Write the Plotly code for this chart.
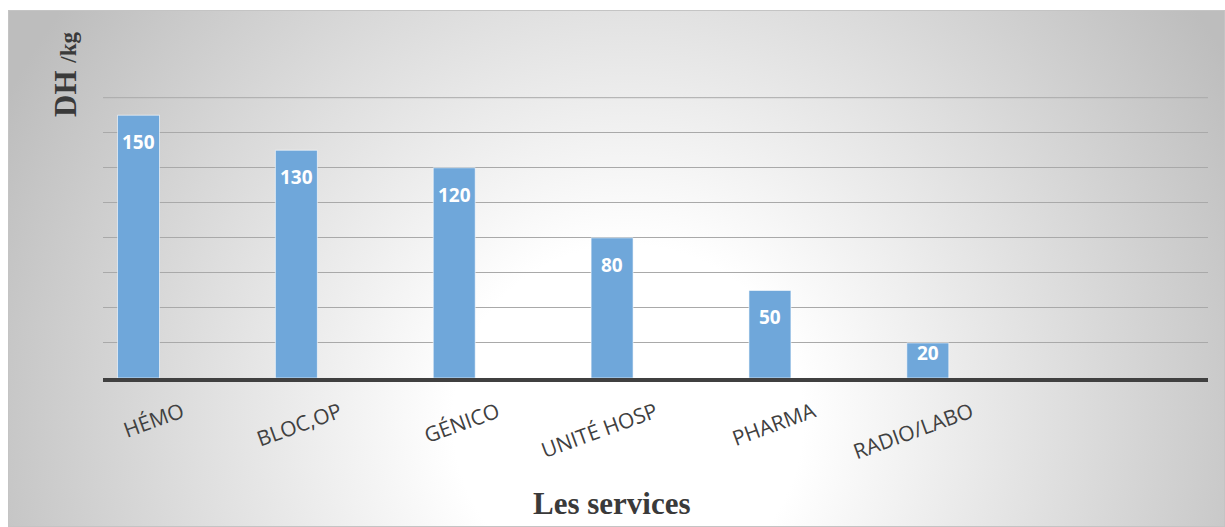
import base64
import plotly.graph_objects as go

# ---- data ----
categories = ["HÉMO", "BLOC,OP", "GÉNICO", "UNITÉ HOSP", "PHARMA", "RADIO/LABO"]
values = [150, 130, 120, 80, 50, 20]
y_max = 160
y_step = 20

# ---- layout geometry (pixels) ----
W, H = 1225, 527
ML, MR, MT, MB = 103, 17, 97, 149
PW, PH = W - ML - MR, H - MT - MB
n_slots = 7
bar_width = 0.266
bar_offset = -0.408
y_top = y_max + 0.4


def px_x(px):
    return (px - ML) / PW


def px_y(py):
    return (H - MB - py) / PH


BLUE = "#6fa7da"
DARK = "#404040"
GRID = "#a9a9a9"

svg = (
    '<svg xmlns="http://www.w3.org/2000/svg" width="1217" height="517" '
    'viewBox="0 0 1217 517" preserveAspectRatio="none">'
    '<defs><radialGradient id="g" gradientUnits="userSpaceOnUse" cx="620" cy="410" r="700">'
    '<stop offset="0" stop-color="#ffffff"/><stop offset="0.25" stop-color="#ffffff"/>'
    '<stop offset="1" stop-color="#bdbdbd"/></radialGradient></defs>'
    '<rect x="0" y="0" width="1217" height="517" fill="url(#g)" stroke="#c4c4c4" stroke-width="2"/>'
    '</svg>'
)
src = "data:image/svg+xml;base64," + base64.b64encode(svg.encode()).decode()

idx = list(range(len(categories)))

fig = go.Figure()
fig.add_trace(go.Bar(
    x=idx, y=values,
    width=bar_width, offset=bar_offset,
    marker=dict(color=BLUE, line=dict(color="rgba(255,255,255,0.6)", width=1)),
    hoverinfo="skip",
))

px_per_unit = PH / y_top
annotations = []
for i, v in zip(idx, values):
    bar_px = v * px_per_unit
    shift = -min(27, bar_px / 2 - 7.5)
    annotations.append(dict(
        x=i + bar_offset + bar_width / 2, y=v, xref="x", yref="y",
        text=f"<b>{v}</b>", showarrow=False, yanchor="middle", yshift=shift,
        font=dict(family="Open Sans", size=19, color="white"),
    ))

annotations.append(dict(
    x=px_x(65), y=px_y(75), xref="paper", yref="paper",
    text="<b>DH <span style='font-size:23px'>/kg</span></b>",
    textangle=-90, showarrow=False, xanchor="center", yanchor="middle",
    font=dict(family="Liberation Serif", size=31, color="#3a3a3a"),
))
annotations.append(dict(
    x=px_x(612), y=px_y(503), xref="paper", yref="paper",
    text="<b>Les services</b>", showarrow=False, xanchor="center", yanchor="middle",
    font=dict(family="Liberation Serif", size=31, color="#3a3a3a"),
))

fig.update_layout(
    width=W, height=H,
    margin=dict(l=ML, r=MR, t=MT, b=MB, pad=0),
    paper_bgcolor="white",
    plot_bgcolor="rgba(0,0,0,0)",
    showlegend=False,
    annotations=annotations,
    shapes=[dict(
        type="line", xref="paper", yref="y", x0=0, x1=1, y0=y_max, y1=y_max,
        line=dict(color=GRID, width=1), layer="below",
    )],
    images=[dict(
        source=src, xref="paper", yref="paper",
        x=px_x(8), y=px_y(10), sizex=px_x(W) - px_x(8), sizey=px_y(10) - px_y(H),
        xanchor="left", yanchor="top", sizing="stretch", layer="below",
    )],
    xaxis=dict(
        range=[-0.5, n_slots - 0.5],
        tickmode="array", tickvals=idx, ticktext=categories,
        tickangle=-20, ticklabelstandoff=10,
        tickfont=dict(family="Open Sans", size=21, color=DARK),
        showgrid=False, zeroline=False,
        showline=True, linecolor=DARK, linewidth=4,
        ticks="",
    ),
    yaxis=dict(
        range=[0, y_top], dtick=y_step, tick0=0,
        showticklabels=False, showgrid=True, gridcolor=GRID, gridwidth=1,
        zeroline=False, showline=False, ticks="",
    ),
)

fig.write_html("out.html")
